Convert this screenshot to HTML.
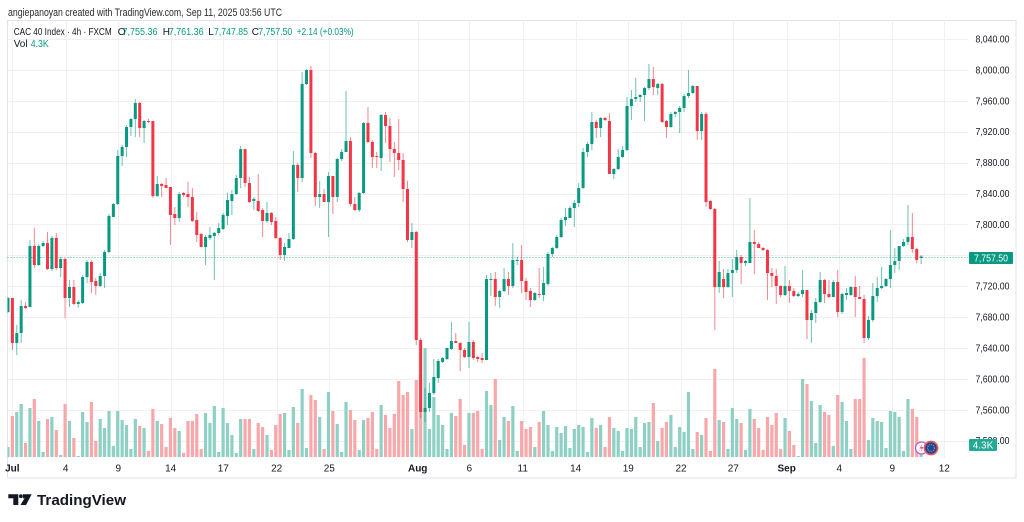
<!DOCTYPE html>
<html><head><meta charset="utf-8">
<style>
html,body{margin:0;padding:0;background:#fff;}
body{width:1024px;height:522px;overflow:hidden;position:relative;font-family:"Liberation Sans",Arial,sans-serif;}
svg{position:absolute;left:0;top:0;}
text{font-family:"Liberation Sans",Arial,sans-serif;}
</style></head>
<body>
<svg id="c" width="1024" height="522" viewBox="0 0 1024 522" xmlns="http://www.w3.org/2000/svg">
<defs><clipPath id="clip"><rect x="7.5" y="20.5" width="961" height="437.5"/></clipPath></defs>
<rect x="0" y="0" width="1024" height="522" fill="#ffffff"/>
<text x="8" y="16" font-size="11" fill="#2b2b2b" textLength="274" lengthAdjust="spacingAndGlyphs">angiepanoyan created with TradingView.com, Sep 11, 2025 03:56 UTC</text>
<rect x="7.5" y="20.5" width="1008.5" height="457.5" fill="none" stroke="#e0e3eb" stroke-width="1"/>
<g id="grid" stroke="#f3eef0" stroke-width="1"></g>
<g id="vol" clip-path="url(#clip)"></g>
<line x1="7.5" y1="257.5" x2="968" y2="257.5" stroke="#089981" stroke-opacity="0.75" stroke-width="1" stroke-dasharray="1,2"/>
<g id="cdl" clip-path="url(#clip)"></g>
<!-- legend -->
<g font-size="10">
<text x="13.7" y="35" fill="#131722" textLength="98" lengthAdjust="spacingAndGlyphs">CAC 40 Index · 4h · FXCM</text>
<text x="117.7" y="35" fill="#131722">O</text>
<text x="122.5" y="35" fill="#089981" textLength="35" lengthAdjust="spacingAndGlyphs">7,755.36</text>
<text x="162.7" y="35" fill="#131722">H</text>
<text x="168.7" y="35" fill="#089981" textLength="35" lengthAdjust="spacingAndGlyphs">7,761.36</text>
<text x="208.3" y="35" fill="#131722">L</text>
<text x="214" y="35" fill="#089981" textLength="34" lengthAdjust="spacingAndGlyphs">7,747.85</text>
<text x="251.7" y="35" fill="#131722">C</text>
<text x="258.3" y="35" fill="#089981" textLength="34" lengthAdjust="spacingAndGlyphs">7,757.50</text>
<text x="296.7" y="35" fill="#089981" textLength="57" lengthAdjust="spacingAndGlyphs">+2.14 (+0.03%)</text>
<text x="13.7" y="47" fill="#131722">Vol</text>
<text x="30.7" y="47" fill="#089981" textLength="18" lengthAdjust="spacingAndGlyphs">4.3K</text>
</g>
<g id="pax" font-size="10" fill="#131722" text-anchor="end"></g>
<g id="xax" font-size="10" fill="#131722" text-anchor="middle"></g>
<!-- last price label -->
<rect x="969" y="252" width="44" height="12" rx="1" fill="#089981"/>
<text x="991" y="261.5" font-size="10" fill="#fff" text-anchor="middle" textLength="34" lengthAdjust="spacingAndGlyphs">7,757.50</text>
<rect x="969" y="439" width="28" height="12" rx="1" fill="#22ab94"/>
<text x="983" y="448.5" font-size="10" fill="#fff" text-anchor="middle">4.3K</text>
<!-- icons -->
<circle cx="921.5" cy="448" r="6" fill="#fff" stroke="#b54fd8" stroke-width="1.2"/>
<path d="M922.5 443.5 L919.5 448.5 L921.7 448.5 L920.5 452.5 L923.5 447 L921.3 447 Z" fill="#d9559a"/>
<circle cx="931" cy="448" r="6.6" fill="#1e4a9c" stroke="#f2545b" stroke-width="1.6"/>
<circle cx="931" cy="448" r="3.4" fill="none" stroke="#e8c93a" stroke-width="0.9" stroke-dasharray="0.8,1.2"/>
<!-- logo -->
<g fill="#131722">
<path d="M8.3 494.3 H18.3 V505 H13.3 V498.3 H8.3 Z"/>
<circle cx="20.9" cy="496.2" r="1.9"/>
<path d="M23 494.3 H31.7 L26 505 H20.4 L24.6 498.3 H23 Z"/>
<text x="37" y="505" font-size="15" font-weight="bold" textLength="89" lengthAdjust="spacingAndGlyphs">TradingView</text>
</g>
</svg>
<script>
(function(){
var NS='http://www.w3.org/2000/svg';
function el(t,a,p){var e=document.createElementNS(NS,t);for(var k in a)e.setAttribute(k,a[k]);p.appendChild(e);return e;}
var GC='#089981',RC='#f23645';
var C=[[1,298,312,297,313],[0,298,343,298,350],[1,333,343,325,355],[1,306,333,300,343],[0,306,308,302,309],[1,246,307,240,307],[0,246,265,228,268],[1,246,265,244,266],[1,243,246,241,247],[0,243,269,232,270],
[1,238,269,236,271],[0,238,268,233,270],[1,259,268,257,277],[0,259,298,258,318],[1,287,298,280,307],[0,287,304,280,305],[1,302,304,300,308],[1,277,303,275,304],[1,262,277,260,283],[0,262,282,260,293],
[0,281,286,278,295],[1,276,286,273,287],[1,252,276,250,288],[1,216,252,214,253],[1,204,217,203,217],[1,156,204,150,205],[1,147,156,145,166],[1,127,147,125,157],[1,119,127,118,136],[1,103,119,99,137],
[0,103,128,102,137],[1,121,128,120,143],[0,121,122,119,123],[0,121,196,121,198],[1,184,196,176,197],[0,184,186,183,197],[0,185,188,178,188],[0,187,215,187,245],[0,214,218,207,225],[1,194,218,192,222],
[0,193,195,192,197],[0,194,197,182,207],[0,197,221,188,222],[0,220,235,212,242],[0,234,247,233,247],[1,237,247,235,265],[1,235,238,227,240],[1,233,236,232,280],[1,228,233,223,235],[1,215,229,213,230],
[1,200,216,193,225],[1,194,201,190,215],[1,178,194,175,195],[1,149,178,146,188],[0,149,183,149,187],[0,183,202,177,203],[1,199,201,197,210],[0,201,211,174,212],[0,210,221,208,237],[1,213,221,202,223],
[0,213,222,212,225],[0,221,238,217,239],[0,238,255,237,260],[1,247,255,243,261],[1,239,248,233,248],[1,165,239,151,240],[0,165,178,163,192],[1,84,178,72,182],[1,70,84,69,85],[0,70,153,66,158],
[0,153,197,152,206],[1,194,197,181,208],[0,194,202,189,202],[1,176,202,172,237],[0,176,197,176,214],[1,159,197,158,202],[1,152,159,149,161],[1,141,152,91,152],[0,141,204,137,206],[0,204,210,197,211],
[1,193,210,192,212],[1,123,193,122,194],[0,123,142,107,143],[0,142,157,140,168],[0,156,157,152,168],[1,115,158,114,171],[0,115,126,112,143],[0,126,149,118,162],[0,149,153,142,177],[0,153,160,119,170],
[0,160,189,153,202],[0,189,240,181,242],[1,232,240,223,248],[0,232,340,231,345],[0,340,412,338,418],[1,408,412,388,422],[1,393,408,383,412],[1,377,393,359,395],[1,361,378,359,383],[1,358,362,357,363],
[1,348,359,348,360],[1,341,349,322,350],[0,341,343,333,343],[0,343,350,342,371],[0,350,357,348,358],[1,342,357,322,368],[0,342,358,340,360],[0,357,359,356,362],[0,358,360,353,363],[1,279,360,275,360],
[1,279,280,273,296],[0,279,297,272,306],[1,291,297,290,308],[1,279,291,268,292],[0,279,286,272,295],[1,260,286,243,288],[1,260,261,257,265],[0,260,281,245,293],[0,281,292,278,300],[0,291,300,288,307],
[1,293,300,292,301],[0,294,295,268,298],[1,283,295,267,301],[1,254,284,252,286],[1,248,254,247,257],[1,237,248,235,249],[1,220,237,218,238],[1,217,220,208,226],[1,208,218,206,218],[1,203,208,200,227],
[1,188,203,183,207],[1,152,188,148,189],[1,144,152,142,157],[1,122,144,112,150],[0,122,128,120,138],[1,118,128,117,137],[0,118,120,117,121],[0,121,174,113,174],[1,169,174,168,179],[1,157,169,149,170],
[1,150,157,146,158],[1,106,150,97,151],[1,99,106,90,120],[1,97,99,78,102],[1,95,97,94,102],[1,88,95,87,121],[1,79,88,64,90],[0,79,87,67,95],[1,84,88,83,95],[0,84,122,83,123],
[0,121,127,120,138],[1,114,127,112,128],[1,112,114,111,117],[1,108,112,106,133],[1,96,108,94,112],[1,93,96,70,98],[1,86,93,85,94],[0,86,131,86,140],[1,114,131,112,140],[0,114,202,112,207],
[0,201,209,200,210],[0,209,287,208,330],[1,272,287,261,293],[0,279,287,269,298],[1,273,287,269,288],[1,270,273,259,297],[1,257,270,250,273],[0,257,263,255,284],[1,261,263,260,266],[1,242,263,198,263],
[0,242,244,230,274],[0,244,248,242,248],[0,248,250,247,251],[0,250,273,249,300],[0,273,276,268,287],[0,276,286,269,304],[0,286,295,285,297],[1,286,295,266,296],[0,286,291,280,303],[0,291,296,288,297],
[1,294,296,292,297],[1,290,294,270,297],[0,290,320,290,339],[1,313,320,310,343],[1,302,313,298,323],[1,280,302,272,303],[0,280,294,279,303],[0,294,297,280,298],[1,282,297,280,297],[0,282,312,270,317],
[1,294,312,293,314],[1,293,295,288,300],[1,287,295,286,296],[0,287,297,276,317],[0,297,299,286,299],[0,299,338,295,343],[1,320,338,316,340],[1,296,320,283,322],[1,288,296,277,302],[1,286,288,267,289],
[1,279,286,278,287],[1,265,279,230,288],[1,261,265,248,273],[1,246,261,246,270],[1,242,246,239,247],[1,237,242,205,245],[0,237,249,213,253],[0,249,260,248,263],[1,256.5,258,255,264]];
var V=[447,416,412,404,443,408,399,421,452,419,417,430,455,404,421,438,456,412,422,402,441,419,428,411,446,411,420,425,449,419,
426,428,451,409,421,424,447,418,428,431,453,421,421,414,449,413,423,406,452,408,423,435,453,419,419,419,449,423,427,435,
450,425,414,413,450,407,423,389,448,395,400,417,449,392,411,424,452,402,410,420,450,420,418,412,449,405,415,428,414,381,
395,392,429,380,375,348,429,397,415,425,449,413,416,399,445,413,413,411,449,391,405,379,440,417,421,406,451,421,429,427,
447,422,411,425,451,427,433,426,448,429,425,427,452,418,428,425,447,417,428,431,451,428,429,417,447,423,422,403,441,428,
422,415,447,427,432,392,449,432,435,418,451,369,420,422,449,408,419,423,450,409,419,428,450,417,425,413,449,418,431,445,
456,379,384,401,443,405,412,415,446,395,402,421,449,399,399,358,440,418,421,422,448,411,412,417,451,399,409,417,450];
var grid=document.getElementById('grid'),vol=document.getElementById('vol'),cdl=document.getElementById('cdl');
var pax=document.getElementById('pax'),xax=document.getElementById('xax');
var prices=[8040,8000,7960,7920,7880,7840,7800,7760,7720,7680,7640,7600,7560,7520];
prices.forEach(function(p){
  var y=39+(8040-p)*0.7725;
  var yy=Math.round(y)+0.5;
  el('line',{x1:7.5,y1:yy,x2:968,y2:yy},grid);
  if(p!==7760){
    var r=String(p%1000);while(r.length<3)r='0'+r;
    var s=Math.floor(p/1000)+','+r+'.00';
    var t=el('text',{x:1009.5,y:(y+3.5).toFixed(1),textLength:34,lengthAdjust:'spacingAndGlyphs'},pax);
    t.textContent=s;
  }
});
var xl=[[12.3,'Jul',1],[65.7,'4'],[118.3,'9'],[170.7,'14'],[223.3,'17'],[276.7,'22'],[329.3,'25'],[417.7,'Aug',1],[469.3,'6'],[522.7,'11'],[575.7,'14'],[628.3,'19'],[681,'22'],[733.3,'27'],[786.7,'Sep',1],[839.3,'4'],[892.3,'9'],[944.3,'12']];
xl.forEach(function(d){
  var x=Math.round(d[0])+0.5;
  el('line',{x1:x,y1:20.5,x2:x,y2:458},grid);
  var a={x:d[0],y:471.5};
  if(d[2])a['font-weight']='bold';
  var t=el('text',a,xax);t.textContent=d[1];
});
for(var i=0;i<V.length;i++){
  var x=8+4.39*i;
  var up=C[i]?C[i][0]:1;
  el('rect',{x:(x-1.6).toFixed(2),y:V[i],width:3.2,height:(457-V[i]),fill:up?'#8fd0c5':'#f8a8aa'},vol);
}
for(var i=0;i<C.length;i++){
  var c=C[i],x=8+4.39*i,col=c[0]?GC:RC;
  el('line',{x1:x.toFixed(2),y1:c[3],x2:x.toFixed(2),y2:c[4],stroke:col,'stroke-width':1,'stroke-opacity':0.6},cdl);
  var h=Math.max(1,c[2]-c[1]);
  el('rect',{x:(x-1.5).toFixed(2),y:c[1],width:3,height:h,fill:col},cdl);
}
})();
</script>
</body></html>
